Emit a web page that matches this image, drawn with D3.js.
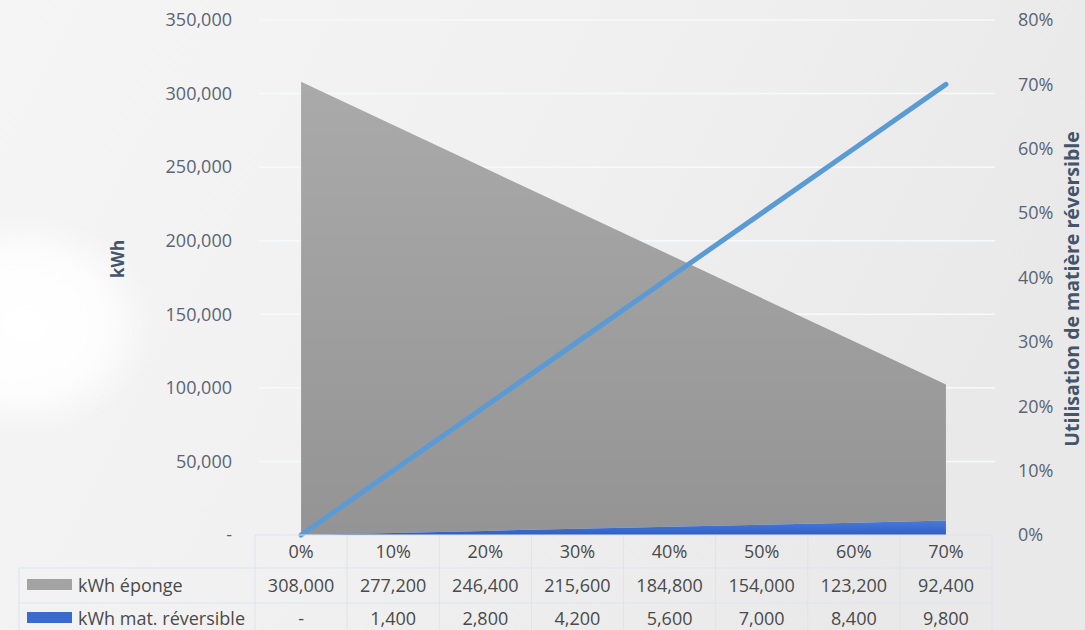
<!DOCTYPE html>
<html>
<head>
<meta charset="utf-8">
<script src="https://cdn.jsdelivr.net/npm/d3@7"></script>
<style>
  html, body { margin: 0; padding: 0; background: #efefef; }
  svg { display: block; font-family: "Open Sans", "Liberation Sans", sans-serif; }
</style>
</head>
<body>
<svg id="chart" width="1085" height="630"></svg>
<script>
// Share of reversible material used
const categories = ["0%", "10%", "20%", "30%", "40%", "50%", "60%", "70%"];
const usage = [0, 0.10, 0.20, 0.30, 0.40, 0.50, 0.60, 0.70];
// Energy per scenario (kWh)
const kwhEponge = [308000, 277200, 246400, 215600, 184800, 154000, 123200, 92400];
const kwhReversible = [0, 1400, 2800, 4200, 5600, 7000, 8400, 9800];
const seriesNames = ["kWh éponge", "kWh mat. réversible"];
const leftTicks = [0, 50000, 100000, 150000, 200000, 250000, 300000, 350000];
const rightTicks = [0, 0.1, 0.2, 0.3, 0.4, 0.5, 0.6, 0.7, 0.8];

const W = 1085, H = 630;
const plot = { left: 255, right: 992, top: 20, bottom: 535 };

const svg = d3.select("#chart");
const defs = svg.append("defs");

// background: soft light-grey wash with a pale glow on the left
const bg = defs.append("linearGradient").attr("id", "bgGrad")
  .attr("x1", 0).attr("y1", 0).attr("x2", 1).attr("y2", 0.3);
bg.append("stop").attr("offset", "0%").attr("stop-color", "#f5f5f5");
bg.append("stop").attr("offset", "55%").attr("stop-color", "#f0f0f0");
bg.append("stop").attr("offset", "100%").attr("stop-color", "#e9e9e9");
const glow = defs.append("radialGradient").attr("id", "glow");
glow.append("stop").attr("offset", "0%").attr("stop-color", "#ffffff").attr("stop-opacity", 1);
glow.append("stop").attr("offset", "60%").attr("stop-color", "#ffffff").attr("stop-opacity", 0.85);
glow.append("stop").attr("offset", "100%").attr("stop-color", "#ffffff").attr("stop-opacity", 0);
const grayGrad = defs.append("linearGradient").attr("id", "grayGrad")
  .attr("x1", 0).attr("y1", 0).attr("x2", 0).attr("y2", 1);
grayGrad.append("stop").attr("offset", "0%").attr("stop-color", "#aaaaaa");
grayGrad.append("stop").attr("offset", "100%").attr("stop-color", "#949494");
const blueGrad = defs.append("linearGradient").attr("id", "blueGrad")
  .attr("x1", 0).attr("y1", 0).attr("x2", 0).attr("y2", 1);
blueGrad.append("stop").attr("offset", "0%").attr("stop-color", "#4a7bd8");
blueGrad.append("stop").attr("offset", "100%").attr("stop-color", "#2f5fc6");

svg.append("rect").attr("width", W).attr("height", H).attr("fill", "url(#bgGrad)");
svg.append("ellipse").attr("cx", 25).attr("cy", 325).attr("rx", 130).attr("ry", 110)
  .attr("fill", "url(#glow)");

// scales
const x = d3.scaleBand().domain(categories).range([plot.left, plot.right]);
const xc = c => x(c) + x.bandwidth() / 2;
const y = d3.scaleLinear().domain([0, 350000]).range([plot.bottom, plot.top]);
const y2 = d3.scaleLinear().domain([0, 0.8]).range([plot.bottom, plot.top]);

const tickColor = "#5b6473";
const titleColor = "#44546a";
const textColor = "#4a4a4a";
const lineColor = "#dde4ec";

// gridlines
svg.append("g")
  .selectAll("line").data(leftTicks.filter(d => d > 0)).join("line")
  .attr("x1", plot.left + 4).attr("x2", plot.right + 3)
  .attr("y1", d => y(d)).attr("y2", d => y(d))
  .attr("stroke", "#f7f9fb").attr("stroke-width", 1.5);

// stacked areas
const rows = categories.map((c, i) => ({ cat: c, rev: kwhReversible[i], epo: kwhEponge[i] }));
const stacked = d3.stack().keys(["rev", "epo"])(rows);
const area = d3.area()
  .x(d => xc(d.data.cat))
  .y0(d => y(d[0]))
  .y1(d => y(d[1]));
svg.append("path").datum(stacked[1]).attr("d", area).attr("fill", "url(#grayGrad)");
svg.append("path").datum(stacked[0]).attr("d", area).attr("fill", "url(#blueGrad)");

// usage line on the secondary axis
const line = d3.line().x((d, i) => xc(categories[i])).y(d => y2(d));
svg.append("path").datum(usage).attr("d", line)
  .attr("fill", "none").attr("stroke", "#5b9bd5").attr("stroke-width", 5)
  .attr("stroke-linecap", "round").attr("stroke-linejoin", "round");

// left axis
const fmtK = d => d === 0 ? "-" : d3.format(",")(d);
const leftAxis = svg.append("g").attr("transform", `translate(232,0)`)
  .call(d3.axisLeft(y).tickValues(leftTicks).tickFormat(fmtK).tickSize(0).tickPadding(0));
leftAxis.select(".domain").remove();
leftAxis.selectAll("text").attr("fill", tickColor).style("font-size", "18px")
  .style("font-family", "'Open Sans', sans-serif");

// right axis
const rightAxis = svg.append("g").attr("transform", `translate(1018,0)`)
  .call(d3.axisRight(y2).tickValues(rightTicks).tickFormat(d3.format(".0%")).tickSize(0).tickPadding(0));
rightAxis.select(".domain").remove();
rightAxis.selectAll("text").attr("fill", tickColor).style("font-size", "18px")
  .style("font-family", "'Open Sans', sans-serif");

// axis titles
svg.append("text").attr("transform", "translate(124,259) rotate(-90)")
  .attr("text-anchor", "middle").attr("fill", titleColor)
  .style("font-size", "17px").style("font-weight", "bold").text("kWh");
svg.append("text").attr("transform", "translate(1079,289) rotate(-90)")
  .attr("text-anchor", "middle").attr("fill", titleColor)
  .style("font-size", "19.5px").style("font-weight", "bold")
  .text("Utilisation de matière réversible");

// data table
const tableLeft = 19;
const rowY = [535, 568, 603, 640];
const table = svg.append("g");
// horizontal rules
table.append("line").attr("x1", plot.left).attr("x2", plot.right)
  .attr("y1", rowY[0]).attr("y2", rowY[0]).attr("stroke", lineColor);
[rowY[1], rowY[2]].forEach(yy => table.append("line")
  .attr("x1", tableLeft).attr("x2", plot.right).attr("y1", yy).attr("y2", yy)
  .attr("stroke", lineColor));
// vertical rules
const vx = categories.map(c => x(c)).concat([plot.right]);
table.selectAll("line.v").data(vx).join("line").attr("class", "v")
  .attr("x1", d => d).attr("x2", d => d)
  .attr("y1", rowY[0]).attr("y2", H).attr("stroke", lineColor);
table.append("line").attr("x1", tableLeft).attr("x2", tableLeft)
  .attr("y1", rowY[1]).attr("y2", H).attr("stroke", lineColor);

// header row (categories)
table.selectAll("text.h").data(categories).join("text").attr("class", "h")
  .attr("x", d => xc(d)).attr("y", 558).attr("text-anchor", "middle")
  .attr("fill", textColor).style("font-size", "18px").text(d => d);

const fmtCell = d => d === 0 ? "-" : d3.format(",")(d);
const seriesRows = [
  { name: seriesNames[0], values: kwhEponge, swatch: "#a3a3a3", y: 592 },
  { name: seriesNames[1], values: kwhReversible, swatch: "#3a6ad0", y: 625 }
];
seriesRows.forEach(r => {
  table.append("rect").attr("x", 27).attr("y", r.y - 13).attr("width", 45).attr("height", 11)
    .attr("fill", r.swatch);
  table.append("text").attr("x", 78).attr("y", r.y).attr("fill", textColor)
    .style("font-size", "18px").text(r.name);
  table.selectAll(null).data(r.values).join("text")
    .attr("x", (d, i) => xc(categories[i])).attr("y", r.y).attr("text-anchor", "middle")
    .attr("fill", textColor).style("font-size", "18px").text(fmtCell);
});
</script>
</body>
</html>
